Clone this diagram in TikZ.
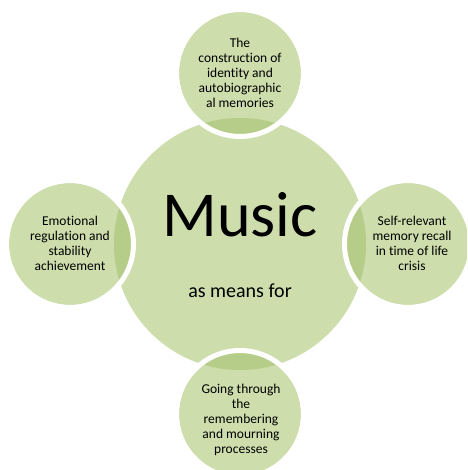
\documentclass[tikz,border=0pt]{standalone}
\usepackage{fontspec}
\setmainfont{Carlito}[Ligatures={NoCommon,NoRare}]
\definecolor{leafgreen}{RGB}{205,221,172}
\definecolor{lensgreen}{RGB}{181,205,136}
\usetikzlibrary{positioning}
\tikzset{
  disc/.style={fill=leafgreen},
  lens/.style={fill=lensgreen},
  gap/.style={draw=white,line width=5pt},
  blab/.style={align=center,inner sep=0pt,font=\fontsize{13.5}{15}\selectfont},
}

\begin{document}
\begin{tikzpicture}[x=1pt,y=1pt]
  \useasboundingbox (0,0) rectangle (467,470);
  \clip (0,0) rectangle (467,470);
  % the big circle
  \coordinate (hub) at (240,226);
  \fill[disc] (hub) circle (126);
  \node[font=\fontsize{64}{70}\selectfont,anchor=base,inner sep=0pt] (music) at (240,233) {Music};
  \node[font=\fontsize{20}{24}\selectfont,anchor=base,inner sep=0pt] (means) at (240,172) {as means for};
  % the four small circles round it
  \foreach \nm/\cx/\cy/\tx/\ty/\txt in {
      top/240/397/240/397/{The\\construction of\\identity and\\autobiographic\\al memories},
      left/70/226/70/227/{Emotional\\regulation and\\stability\\achievement},
      right/408/226/412/227/{Self-relevant\\memory recall\\in time of life\\crisis},
      bot/240/56/241/50/{Going through\\the\\remembering\\and mourning\\processes}}{
    \coordinate (\nm) at (\cx,\cy);
    \fill[disc] (\nm) circle (61);
    \begin{scope}
      \clip (\nm) circle (61);
      \fill[lens] (hub) circle (126);
    \end{scope}
    \draw[gap] (\nm) circle (63.5);
    \node[blab] (\nm-txt) at (\tx,\ty) {\txt};
  }
\end{tikzpicture}
\end{document}
